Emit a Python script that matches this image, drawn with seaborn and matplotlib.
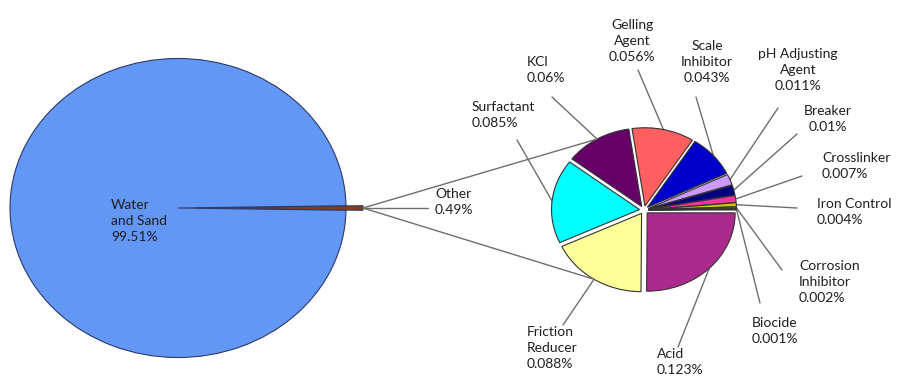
import numpy as np
import matplotlib
matplotlib.use("Agg")
import matplotlib.pyplot as plt
import seaborn as sns

# ---------------- data ----------------
main_labels = ["Other", "Water\nand Sand"]
main_values = [0.49, 99.51]
main_colors = ["#8B3A12", "#6397F6"]

sub_labels = ["Acid", "Friction\nReducer", "Surfactant", "KCl", "Gelling\nAgent",
              "Scale\nInhibitor", "pH Adjusting\nAgent", "Breaker", "Crosslinker",
              "Iron Control", "Corrosion\nInhibitor", "Biocide"]
sub_values = [0.123, 0.088, 0.085, 0.06, 0.056, 0.043, 0.011, 0.01, 0.007,
              0.004, 0.002, 0.001]
sub_colors = ["#AC2A8E", "#FFFF99", "#00FFFF", "#660066", "#FF5F5F", "#0000CC",
              "#CC99FF", "#000080", "#FF3399", "#CCCC00", "#7F6000", "#333300"]

# ---------------- layout (pixel space) ----------------
W, H = 923, 390
YS = 0.89  # vertical squash of the pies (pixels per data unit in y)

def P(x, y):
    """pixel coords (origin top-left) -> data coords"""
    return x, (H - y) / YS

sns.set_theme(style="white")
plt.rcParams["font.family"] = ["Lato", "DejaVu Sans"]

fig = plt.figure(figsize=(W / 100, H / 100), dpi=100)
ax = fig.add_axes([0, 0, 1, 1])

main_pal = sns.color_palette(main_colors)
sub_pal = sns.color_palette(sub_colors)

# big pie
big_c = P(178, 208)
big_w, _ = ax.pie(main_values, colors=main_pal, startangle=-main_values[0] / 100 * 360 / 2,
                  explode=[17, 0], center=big_c, radius=168,
                  wedgeprops=dict(edgecolor="#2B3A67", linewidth=0.8))

# small pie
small_c = P(644, 210)
small_w, _ = ax.pie(sub_values, colors=sub_pal, startangle=0, counterclock=False,
                    explode=[4.5] * len(sub_values), center=small_c, radius=88,
                    wedgeprops=dict(edgecolor="#333333", linewidth=0.8))

ax.set_aspect("auto")
ax.set_xlim(0, W)
ax.set_ylim(0, H / YS)
ax.axis("off")

def edge_pt(w, frac=1.0):
    ang = np.deg2rad((w.theta1 + w.theta2) / 2)
    cx, cy = w.center
    return cx + w.r * frac * np.cos(ang), cy + w.r * frac * np.sin(ang)

LC = "#6e6e6e"
TC = "#1e1e1e"
FS = 10
LS = 1.4

# connection lines from "Other" tip to small pie
other = big_w[0]
tip = edge_pt(other)
for idx in (3, 1):
    p = edge_pt(small_w[idx])
    ax.plot([tip[0], p[0]], [tip[1], p[1]], color=LC, lw=1)
ax.plot([tip[0], P(428, 0)[0]], [tip[1], tip[1]], color=LC, lw=1)
ax.text(*P(435, 202), f"Other\n{main_values[0]:g}%", ha="left", va="center",
        fontsize=FS, color=TC, linespacing=LS)
ax.text(*P(111, 221), f"{main_labels[1]}\n{main_values[1]:g}%", ha="left", va="center",
        fontsize=FS, color=TC, linespacing=LS)

# labels for small pie: (text pos, ha, leader end)
lab_layout = [
    ((657, 362), "left", (678, 347)),    # Acid
    ((527, 348), "left", (563, 325)),    # Friction Reducer
    ((472, 115), "left", (517, 140)),    # Surfactant
    ((527, 70), "left", (552, 97)),      # KCl
    ((632, 41), "center", (638, 70)),    # Gelling Agent
    ((707, 62), "center", (696, 97)),    # Scale Inhibitor
    ((798, 70), "center", (778, 108)),   # pH Adjusting
    ((828, 119), "center", (797, 134)),  # Breaker
    ((822, 166), "left", (802, 176)),    # Crosslinker
    ((817, 212), "left", (797, 208)),    # Iron Control
    ((799, 282), "left", (782, 270)),    # Corrosion Inhibitor
    ((752, 331), "left", (760, 303)),    # Biocide
]

for w, lab, val, (tp, ha, le) in zip(small_w, sub_labels, sub_values, lab_layout):
    s = edge_pt(w)
    e = P(*le)
    ax.plot([s[0], e[0]], [s[1], e[1]], color=LC, lw=1, zorder=0.5)
    ax.text(*P(*tp), f"{lab}\n{val:g}%", ha=ha, va="center", multialignment=ha,
            fontsize=FS, color=TC, linespacing=LS)

fig.savefig("out.png", dpi=100)
